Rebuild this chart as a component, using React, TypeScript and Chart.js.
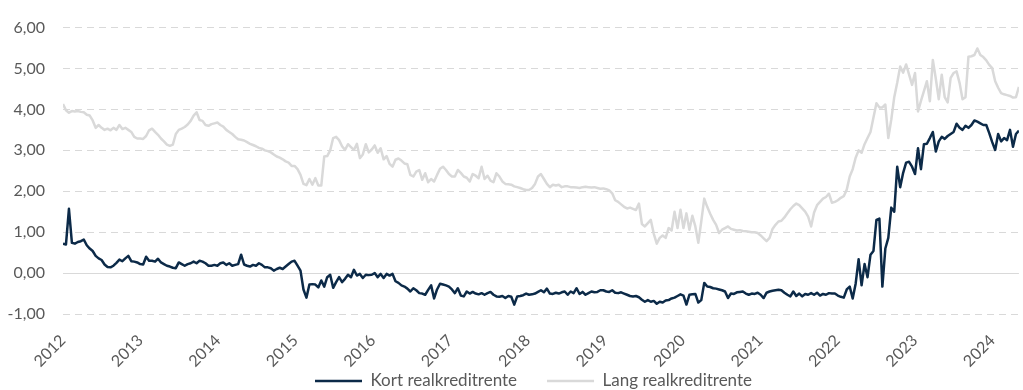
import { useEffect, useRef } from "react";
import { Chart, registerables } from "chart.js";

Chart.register(...registerables);

// ---- data ----
const yearLabels = ["2012", "2013", "2014", "2015", "2016", "2017", "2018", "2019", "2020", "2021", "2022", "2023", "2024"];
const seriesNames = ["Kort realkreditrente", "Lang realkreditrente"];
const yTickValues = [-1, 0, 1, 2, 3, 4, 5, 6];
const START_YEAR = 2012;
const STEP_DAYS = 14; // one observation every second week

const kort = [
  // 2012
  0.72, 0.70, 1.57, 0.74, 0.72, 0.76, 0.78, 0.82, 0.68, 0.60, 0.54, 0.42, 0.36, 0.32, 0.21, 0.15, 0.14, 0.18, 0.25, 0.33, 0.29, 0.36, 0.42, 0.29, 0.28, 0.26,
  // 2013
  0.22, 0.21, 0.40, 0.30, 0.30, 0.28, 0.35, 0.26, 0.22, 0.18, 0.16, 0.13, 0.12, 0.26, 0.22, 0.18, 0.22, 0.24, 0.28, 0.24, 0.30, 0.28, 0.24, 0.18, 0.18, 0.20,
  // 2014
  0.18, 0.24, 0.26, 0.20, 0.24, 0.18, 0.20, 0.22, 0.45, 0.21, 0.18, 0.16, 0.20, 0.18, 0.24, 0.20, 0.14, 0.14, 0.12, 0.06, 0.10, 0.13, 0.10, 0.16, 0.22, 0.28,
  // 2015
  0.30, 0.18, 0.06, -0.40, -0.60, -0.28, -0.27, -0.28, -0.35, -0.18, -0.33, -0.10, -0.04, -0.36, -0.22, -0.10, -0.22, -0.14, -0.04, -0.10, 0.08, -0.06, -0.02, -0.12, -0.04, -0.05,
  // 2016
  -0.04, 0.00, -0.10, -0.02, -0.12, -0.02, -0.06, -0.02, -0.20, -0.24, -0.30, -0.33, -0.38, -0.45, -0.37, -0.42, -0.49, -0.50, -0.53, -0.41, -0.30, -0.62, -0.40, -0.26, -0.28, -0.30,
  // 2017
  -0.33, -0.40, -0.49, -0.37, -0.55, -0.57, -0.45, -0.50, -0.46, -0.50, -0.52, -0.49, -0.53, -0.49, -0.46, -0.53, -0.57, -0.58, -0.56, -0.61, -0.56, -0.58, -0.77, -0.57, -0.56, -0.54,
  // 2018
  -0.50, -0.53, -0.52, -0.50, -0.46, -0.42, -0.47, -0.38, -0.50, -0.51, -0.48, -0.50, -0.47, -0.45, -0.53, -0.45, -0.49, -0.37, -0.51, -0.46, -0.53, -0.49, -0.45, -0.47, -0.46, -0.42,
  // 2019
  -0.42, -0.45, -0.46, -0.42, -0.48, -0.49, -0.47, -0.50, -0.53, -0.56, -0.57, -0.56, -0.59, -0.65, -0.70, -0.66, -0.70, -0.68, -0.75, -0.70, -0.72, -0.67, -0.66, -0.62, -0.60, -0.56,
  // 2020
  -0.52, -0.55, -0.77, -0.53, -0.52, -0.51, -0.72, -0.66, -0.24, -0.33, -0.34, -0.37, -0.38, -0.40, -0.42, -0.45, -0.61, -0.50, -0.51, -0.47, -0.46, -0.45, -0.50, -0.53, -0.50, -0.51,
  // 2021
  -0.48, -0.53, -0.61, -0.48, -0.45, -0.43, -0.42, -0.41, -0.42, -0.48, -0.53, -0.57, -0.45, -0.56, -0.50, -0.57, -0.51, -0.53, -0.49, -0.53, -0.48, -0.55, -0.51, -0.53, -0.49, -0.50,
  // 2022
  -0.50, -0.55, -0.58, -0.60, -0.40, -0.33, -0.62, -0.26, 0.34, -0.30, 0.22, -0.10, 0.45, 0.54, 1.30, 1.33, -0.33, 0.60, 0.86, 1.60, 1.50, 2.60, 2.10, 2.45, 2.70, 2.72,
  // 2023
  2.60, 2.42, 3.05, 2.54, 3.15, 3.16, 3.30, 3.45, 2.97, 3.22, 3.33, 3.28, 3.35, 3.40, 3.45, 3.65, 3.55, 3.50, 3.60, 3.55, 3.62, 3.73, 3.70, 3.66, 3.62, 3.62,
  // 2024
  3.42, 3.20, 3.01, 3.40, 3.22, 3.30, 3.25, 3.50, 3.09, 3.40, 3.48,
];

const lang = [
  // 2012
  4.13, 3.98, 3.92, 3.96, 3.95, 3.96, 3.94, 3.93, 3.87, 3.85, 3.73, 3.55, 3.62, 3.55, 3.50, 3.53, 3.49, 3.55, 3.50, 3.62, 3.52, 3.55, 3.50, 3.45, 3.33, 3.29,
  // 2013
  3.29, 3.28, 3.35, 3.49, 3.53, 3.45, 3.38, 3.29, 3.22, 3.14, 3.11, 3.14, 3.40, 3.50, 3.53, 3.57, 3.63, 3.72, 3.85, 3.93, 3.74, 3.72, 3.62, 3.60, 3.64, 3.66,
  // 2014
  3.68, 3.62, 3.58, 3.50, 3.45, 3.40, 3.33, 3.27, 3.26, 3.24, 3.20, 3.16, 3.13, 3.10, 3.06, 3.04, 3.00, 2.98, 2.95, 2.90, 2.85, 2.82, 2.78, 2.73, 2.70, 2.62,
  // 2015
  2.62, 2.54, 2.40, 2.18, 2.15, 2.30, 2.16, 2.32, 2.14, 2.14, 2.85, 2.86, 3.00, 3.30, 3.33, 3.25, 3.10, 3.01, 3.15, 3.08, 3.01, 3.16, 2.81, 2.90, 3.15, 2.95,
  // 2016
  3.02, 3.12, 2.94, 3.05, 2.78, 2.86, 2.67, 2.60, 2.77, 2.80, 2.75, 2.68, 2.66, 2.40, 2.36, 2.48, 2.52, 2.28, 2.44, 2.22, 2.30, 2.24, 2.40, 2.55, 2.60, 2.52,
  // 2017
  2.42, 2.36, 2.36, 2.52, 2.45, 2.36, 2.33, 2.24, 2.42, 2.38, 2.32, 2.60, 2.30, 2.38, 2.26, 2.22, 2.44, 2.36, 2.24, 2.18, 2.17, 2.16, 2.12, 2.10, 2.08, 2.05,
  // 2018
  2.03, 2.03, 2.08, 2.18, 2.36, 2.42, 2.30, 2.18, 2.10, 2.16, 2.14, 2.16, 2.10, 2.12, 2.12, 2.10, 2.10, 2.09, 2.08, 2.10, 2.11, 2.10, 2.09, 2.10, 2.08, 2.06,
  // 2019
  2.07, 2.05, 2.02, 1.95, 1.78, 1.74, 1.68, 1.62, 1.58, 1.60, 1.57, 1.54, 1.70, 1.20, 1.14, 1.22, 1.30, 0.96, 0.72, 0.86, 0.92, 0.86, 1.10, 1.04, 1.50, 1.10,
  // 2020
  1.55, 1.10, 1.46, 1.06, 1.40, 1.14, 0.74, 1.26, 1.82, 1.62, 1.45, 1.30, 1.18, 0.98, 1.06, 1.10, 1.14, 1.08, 1.06, 1.04, 1.05, 1.03, 1.02, 1.01, 1.00, 1.00,
  // 2021
  0.98, 0.92, 0.85, 0.78, 0.86, 1.08, 1.18, 1.26, 1.28, 1.36, 1.46, 1.56, 1.64, 1.70, 1.66, 1.58, 1.50, 1.38, 1.14, 1.48, 1.66, 1.74, 1.82, 1.86, 1.94, 1.72,
  // 2022
  1.74, 1.78, 1.84, 1.88, 2.04, 2.36, 2.54, 2.82, 3.00, 2.94, 3.15, 3.30, 3.45, 3.80, 4.15, 4.05, 4.05, 4.12, 3.30, 3.75, 4.30, 4.65, 5.05, 4.90, 5.10, 4.85,
  // 2023
  4.60, 4.89, 3.95, 4.21, 4.45, 4.69, 4.20, 5.21, 4.75, 4.25, 4.85, 4.30, 4.17, 4.77, 4.89, 4.93, 4.65, 4.25, 4.30, 5.29, 5.30, 5.33, 5.49, 5.33, 5.28, 5.20,
  // 2024
  5.09, 5.01, 4.69, 4.53, 4.40, 4.37, 4.35, 4.33, 4.29, 4.30, 4.55,
];

// ---- styles / layout ----
const NAVY = "#0c2a48";
const LIGHT = "#d9d9d9";
const TEXT = "#595959";
const FAMILY = "Lato, 'Noto Sans', sans-serif";
const TICK_FONT = { family: FAMILY, size: 16 };
const LEGEND_FONT = { family: FAMILY, size: 17 };
const LEGEND_PADDING = 30;
const LEGEND_START_X = 315;
const LEGEND_CENTER_Y = 381;

// moves the built-in legend to where the reference places it
const legendPlacement = {
  id: "legendPlacement",
  afterLayout(chart: any) {
    const lg = chart.legend;
    if (!lg || !lg.lineWidths) return;
    const p = LEGEND_PADDING;
    const currentStart = (lg.left + p + lg.right - lg.lineWidths[0]) / 2;
    const dx = LEGEND_START_X - currentStart;
    lg.left += dx;
    lg.right += dx;
    const dy = LEGEND_CENTER_Y - (lg.top + p + LEGEND_FONT.size / 2);
    lg.top += dy;
    lg.bottom += dy;
  },
};

export default function App() {
  const ref = useRef<HTMLCanvasElement | null>(null);

  useEffect(() => {
    if (!ref.current) return;
    const step = STEP_DAYS / 365.25;
    const toPoints = (vals: number[]) => vals.map((y, i) => ({ x: START_YEAR + i * step, y }));
    const n = Math.max(kort.length, lang.length);

    const chart = new Chart(ref.current, {
      type: "line",
      data: {
        datasets: [
          {
            label: seriesNames[0],
            data: toPoints(kort),
            borderColor: NAVY,
            backgroundColor: NAVY,
            borderWidth: 2.5,
            pointRadius: 0,
            tension: 0,
            borderJoinStyle: "round",
          },
          {
            label: seriesNames[1],
            data: toPoints(lang),
            borderColor: LIGHT,
            backgroundColor: LIGHT,
            borderWidth: 2.5,
            pointRadius: 0,
            tension: 0,
            borderJoinStyle: "round",
          },
        ],
      },
      plugins: [legendPlacement],
      options: {
        animation: false,
        responsive: true,
        maintainAspectRatio: false,
        layout: { padding: { top: 21, right: 0, bottom: -39, left: 0 } },
        plugins: {
          tooltip: { enabled: false },
          legend: {
            position: "bottom",
            labels: {
              usePointStyle: true,
              pointStyle: "line",
              pointStyleWidth: 47,
              padding: LEGEND_PADDING,
              color: TEXT,
              font: LEGEND_FONT,
            },
          },
        },
        scales: {
          x: {
            type: "linear",
            min: START_YEAR,
            max: START_YEAR + (n - 1) * step,
            grid: { display: false, drawTicks: false },
            border: { display: false },
            afterBuildTicks: (axis: any) => {
              axis.ticks = yearLabels.map((l) => ({ value: Number(l) }));
            },
            afterFit: (axis: any) => {
              axis.height = 58;
            },
            ticks: {
              autoSkip: false,
              minRotation: 45,
              maxRotation: 45,
              padding: 17,
              color: TEXT,
              font: TICK_FONT,
              callback: (v: any) => String(v),
            },
          },
          y: {
            min: yTickValues[0],
            max: yTickValues[yTickValues.length - 1],
            afterBuildTicks: (axis: any) => {
              axis.ticks = yTickValues.map((v) => ({ value: v }));
            },
            afterFit: (axis: any) => {
              axis.width = 63;
            },
            grid: { color: LIGHT, lineWidth: 1, drawTicks: false },
            border: {
              display: false,
              dash: (ctx: any) => (ctx.tick && ctx.tick.value === 0 ? [] : [7, 5]),
            },
            ticks: {
              padding: 18,
              color: TEXT,
              font: TICK_FONT,
              callback: (v: any) => Number(v).toFixed(2).replace(".", ","),
            },
          },
        },
      },
    });
    return () => chart.destroy();
  }, []);

  return (
    <div style={{ position: "fixed", left: 0, top: 0, width: 1023, height: 390, background: "#fff" }}>
      <canvas ref={ref} />
    </div>
  );
}
